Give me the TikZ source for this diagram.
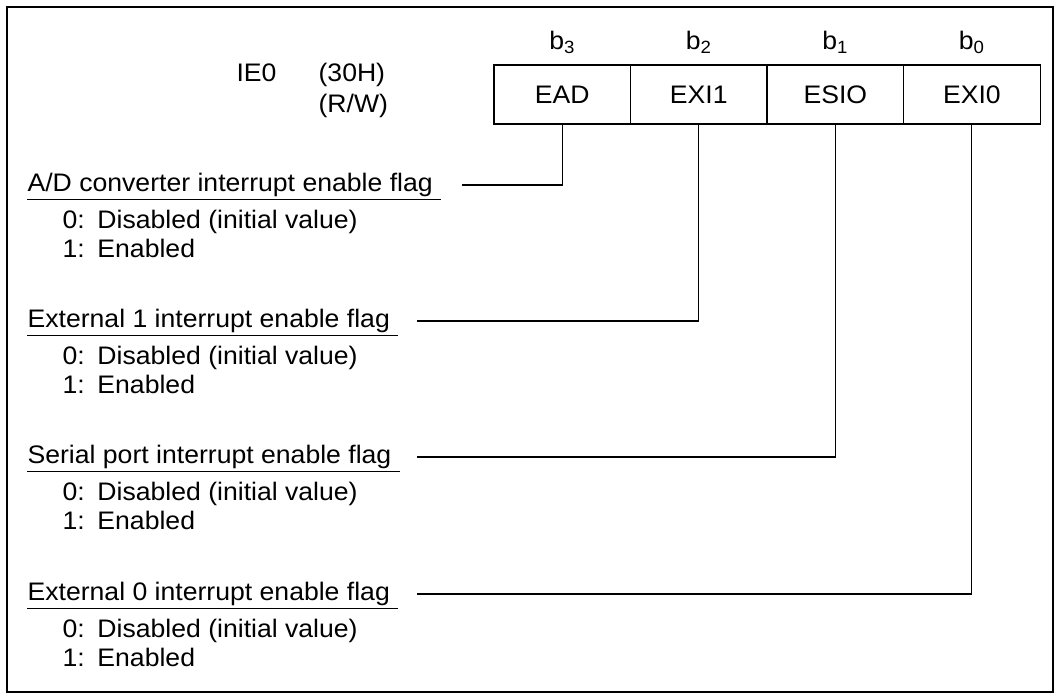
\documentclass[tikz,border=0pt]{standalone}
\usepackage{fontspec}
\setmainfont{Liberation Sans}[FakeStretch=1.05]
\usetikzlibrary{positioning}

\begin{document}
\begin{tikzpicture}[x=0.75pt,y=-0.75pt,line width=0.9pt,
    every node/.style={font=\fontsize{19}{22}\selectfont},
    cell/.style={draw,minimum width=102.4pt,minimum height=44.25pt,inner sep=0pt},
    flag/.style={anchor=base west,inner sep=0pt},
    item/.style={anchor=base west,inner sep=0pt},
    on grid,node distance=102.4pt]
    \useasboundingbox (0,0) rectangle (1060,699);
    \draw (7,7) rectangle (1053,692);
    % register IE0
    \node[anchor=base] (reg) at (256.5,82) {IE0};
    \node[anchor=base west,inner sep=0pt] (addr) at (318,82)  {(30H)};
    \node[anchor=base west,inner sep=0pt] (rw)   at (318,113) {(R/W)};
    \node[cell] (ead)  at (562.25,94.5) {EAD};
    \node[cell] (exi1) [right=of ead]  {EXI1};
    \node[cell] (esio) [right=of exi1] {ESIO};
    \node[cell] (exi0) [right=of esio] {EXI0};
    \node[anchor=base] (b3) at ([yshift=11.25pt]ead.north)  {b\textsubscript{3}};
    \node[anchor=base] (b2) at ([yshift=11.25pt]exi1.north) {b\textsubscript{2}};
    \node[anchor=base] (b1) at ([yshift=11.25pt]esio.north) {b\textsubscript{1}};
    \node[anchor=base] (b0) at ([yshift=11.25pt]exi0.north) {b\textsubscript{0}};
    % flag descriptions
    \node[flag] (f3) at (27,191) {A/D converter interrupt enable flag};
    \node[item] (f3a) at (62,228) {0:\enspace Disabled (initial value)};
    \node[item] (f3b) at (62,257) {1:\enspace Enabled};
    \node[flag] (f2) at (27,327) {External 1 interrupt enable flag};
    \node[item] (f2a) at (62,364) {0:\enspace Disabled (initial value)};
    \node[item] (f2b) at (62,393) {1:\enspace Enabled};
    \node[flag] (f1) at (27,463) {Serial port interrupt enable flag};
    \node[item] (f1a) at (62,500) {0:\enspace Disabled (initial value)};
    \node[item] (f1b) at (62,529) {1:\enspace Enabled};
    \node[flag] (f0) at (27,600) {External 0 interrupt enable flag};
    \node[item] (f0a) at (62,637) {0:\enspace Disabled (initial value)};
    \node[item] (f0b) at (62,666) {1:\enspace Enabled};
    % underlines
    \draw ([yshift=-2pt]f3.south west) -- ([shift={(6pt,-2pt)}]f3.south east);
    \draw ([yshift=-2pt]f2.south west) -- ([shift={(6pt,-2pt)}]f2.south east);
    \draw ([yshift=-2pt]f1.south west) -- ([shift={(6pt,-2pt)}]f1.south east);
    \draw ([yshift=-2pt]f0.south west) -- ([shift={(6pt,-2pt)}]f0.south east);
    % connectors
    \coordinate (c3) at (462,185);
    \coordinate (c2) at (417,321);
    \coordinate (c1) at (417,457);
    \coordinate (c0) at (417,594);
    \draw (c3) -| (ead.south);
    \draw (c2) -| (exi1.south);
    \draw (c1) -| (esio.south);
    \draw (c0) -| (exi0.south);
\end{tikzpicture}
\end{document}
